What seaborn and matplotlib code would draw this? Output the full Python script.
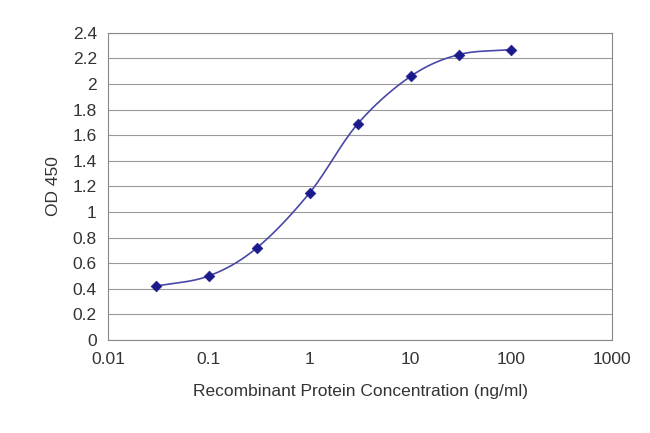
import matplotlib
matplotlib.use("Agg")
import matplotlib.pyplot as plt
import seaborn as sns
import pandas as pd
import numpy as np

conc = [0.03, 0.1, 0.3, 1, 3, 10, 30, 100]
od = [0.42, 0.50, 0.72, 1.15, 1.69, 2.06, 2.23, 2.27]
xticks = [0.01, 0.1, 1, 10, 100, 1000]
xticklabels = ["0.01", "0.1", "1", "10", "100", "1000"]
yticks = [0, 0.2, 0.4, 0.6, 0.8, 1, 1.2, 1.4, 1.6, 1.8, 2, 2.2, 2.4]

sns.set_style("white")
plt.rcParams['font.family'] = ['Liberation Sans', 'DejaVu Sans']
fig = plt.figure(figsize=(6.5, 4.33), dpi=100)
ax = fig.add_axes([0.166, 0.215, 0.776, 0.709])
df = pd.DataFrame({"conc": conc, "od": od})

# smooth display curve through the points (Catmull-Rom in log-x)
lx = np.log10(df["conc"].values); yy = df["od"].values
P = np.column_stack([lx, yy]); P = np.vstack([2*P[0]-P[1], P, 2*P[-1]-P[-2]])
cx, cy = [], []
for i in range(1, len(P)-2):
    t = np.linspace(0, 1, 20)[:, None]
    p0, p1, p2, p3 = P[i-1], P[i], P[i+1], P[i+2]
    c = 0.5*((2*p1) + (-p0+p2)*t + (2*p0-5*p1+4*p2-p3)*t**2 + (-p0+3*p1-3*p2+p3)*t**3)
    cx.extend(10**c[:, 0]); cy.extend(c[:, 1])
ax.plot(cx, cy, color="#4848a8", lw=1.2)
sns.scatterplot(data=df, x="conc", y="od", marker="D", color="#1a1a8c", s=30, edgecolor="#1a1a8c", ax=ax, zorder=3)

ax.set_xscale("log")
ax.set_xlim(0.01, 1000)
ax.set_ylim(0, 2.4)
ax.set_xticks(xticks); ax.set_xticklabels(xticklabels)
ax.minorticks_off()
ax.set_yticks(yticks); ax.set_yticklabels([f"{v:g}" for v in yticks])
ax.yaxis.grid(True, color="#999999", lw=0.8)
for s in ax.spines.values():
    s.set_color("#888888"); s.set_linewidth(0.8)
ax.tick_params(axis="x", labelsize=12.5, colors="#333333", length=0, pad=9)
ax.tick_params(axis="y", labelsize=12.5, colors="#333333", length=0, pad=8)
ax.set_xlabel("Recombinant Protein Concentration (ng/ml)", fontsize=12.5, color="#333333", labelpad=12)
ax.set_ylabel("OD 450", fontsize=12.5, color="#333333", labelpad=8)
fig.savefig("out.png", dpi=100)
